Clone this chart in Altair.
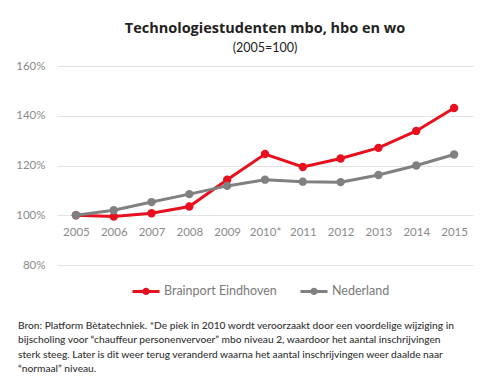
import altair as alt
import pandas as pd

years = ["2005", "2006", "2007", "2008", "2009", "2010*", "2011", "2012", "2013", "2014", "2015"]
brainport = [100, 99.5, 100.8, 103.5, 114.3, 124.6, 119.4, 122.8, 127.1, 133.9, 143.1]
nederland = [100, 102.0, 105.3, 108.5, 111.8, 114.3, 113.5, 113.3, 116.2, 120.0, 124.4]
series_names = ["Brainport Eindhoven", "Nederland"]
series_colors = ["#e8101e", "#808080"]
y_ticks = [80, 100, 120, 140, 160]

footnote = [
    "Bron: Platform Bètatechniek. *De piek in 2010 wordt veroorzaakt door een voordelige wijziging in",
    "bijscholing voor “chauffeur personenvervoer” mbo niveau 2, waardoor het aantal inschrijvingen",
    "sterk steeg. Later is dit weer terug veranderd waarna het aantal inschrijvingen weer daalde naar",
    "“normaal” niveau.",
]

rows = []
for name, vals in zip(series_names, [brainport, nederland]):
    for i, (yr, v) in enumerate(zip(years, vals)):
        rows.append({"jaar": yr, "waarde": v, "reeks": name, "idx": i})
df = pd.DataFrame(rows)

FONT = "Lato"

x = alt.X("jaar:O", sort=years, scale=alt.Scale(type="point", padding=0.5),
          axis=alt.Axis(title=None, domain=False, ticks=False, grid=False, labelAngle=0,
                        offset=-40, labelPadding=1, labelColor="#8a8a8a", labelFontSize=11.5,
                        labelFont=FONT))
y = alt.Y("waarde:Q", scale=alt.Scale(domain=[80, 160], nice=False, zero=False),
          axis=alt.Axis(title=None, values=y_ticks, domain=False, ticks=False, grid=True,
                        gridColor="#e3e3e3", gridWidth=1, labelExpr="datum.value + '%'",
                        labelPadding=12, labelColor="#8a8a8a", labelFontSize=11.5,
                        labelFont=FONT))
color = alt.Color("reeks:N", sort=series_names,
                  scale=alt.Scale(domain=series_names, range=series_colors),
                  legend=alt.Legend(title=None, orient="none", direction="horizontal",
                                    legendX=74, legendY=210,
                                    symbolType="M-1,0H1M-0.16,0A0.16,0.16,0,1,1,0.16,0A0.16,0.16,0,1,1,-0.16,0Z",
                                    symbolSize=729, symbolStrokeWidth=3,
                                    labelFont=FONT, labelFontSize=12.5, labelColor="#7a7a7a",
                                    labelOffset=3, columnPadding=17))

lines = alt.Chart(df).mark_line(strokeWidth=3).encode(x=x, y=y, color=color, order="idx:Q")
points = alt.Chart(df).mark_circle(size=70, opacity=1).encode(x=x, y=y, color=alt.Color("reeks:N", sort=series_names, scale=alt.Scale(domain=series_names, range=series_colors), legend=None))

note = alt.Chart(pd.DataFrame({"t": [footnote]})).mark_text(
    align="left", baseline="alphabetic", font=FONT, fontSize=10.2, color="#333333",
    lineHeight=14.4, fontWeight=500
).encode(x=alt.value(-39), y=alt.value(263), text="t")

chart = alt.layer(lines, points, note).properties(
    width=416, height=199,
    padding={"left": 57, "top": 66, "right": 28, "bottom": 112},
    autosize=alt.AutoSizeParams(type="none"),
    title=alt.TitleParams(text="Technologiestudenten mbo, hbo en wo", subtitle="(2005=100)",
                          font="Open Sans", fontSize=14.5, fontWeight="bold", color="#222222",
                          subtitleFont=FONT, subtitleFontSize=12.5, subtitleColor="#222222",
                          subtitlePadding=5, offset=5, anchor="middle"),
).configure_view(stroke=None)

chart.save("out.html", embed_options={"renderer": "svg", "actions": False})
